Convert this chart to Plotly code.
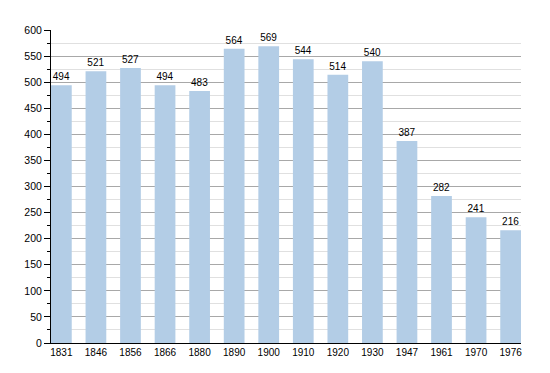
import plotly.graph_objects as go

years = ["1831", "1846", "1856", "1866", "1880", "1890", "1900", "1910", "1920", "1930", "1947", "1961", "1970", "1976"]
population = [494, 521, 527, 494, 483, 564, 569, 544, 514, 540, 387, 282, 241, 216]

fig = go.Figure()
fig.add_trace(go.Bar(
    x=years, y=population,
    marker=dict(color="#b3cde6", line=dict(width=0)),
    width=0.6,
    text=[str(v) for v in population], textposition="outside",
    textfont=dict(family="Liberation Sans, Arial, sans-serif", size=10, color="#000"),
    cliponaxis=False,
))
fig.update_layout(
    width=550, height=373,
    margin=dict(l=43, r=37, t=22, b=38, autoexpand=False),
    paper_bgcolor="white", plot_bgcolor="white",
    showlegend=False,
    font=dict(family="Liberation Sans, Arial, sans-serif", size=10, color="#000"),
)
fig.update_yaxes(
    range=[0, 600], dtick=50, tick0=0, automargin=False,
    showgrid=True, gridcolor="#a8a8a8", gridwidth=1,
    minor=dict(dtick=25, showgrid=True, gridcolor="#e0e0e0", ticks="outside", ticklen=3, tickcolor="#000"),
    ticks="outside", ticklen=6, tickcolor="#000",
    tickfont=dict(size=10.5),
    showline=True, linecolor="#000", linewidth=1,
    zeroline=False,
)
fig.update_xaxes(
    type="category", range=[-0.3, 13.3], automargin=False,
    showline=True, linecolor="#000", linewidth=1,
    ticks="", showgrid=False,
)
fig.write_html("out.html")
